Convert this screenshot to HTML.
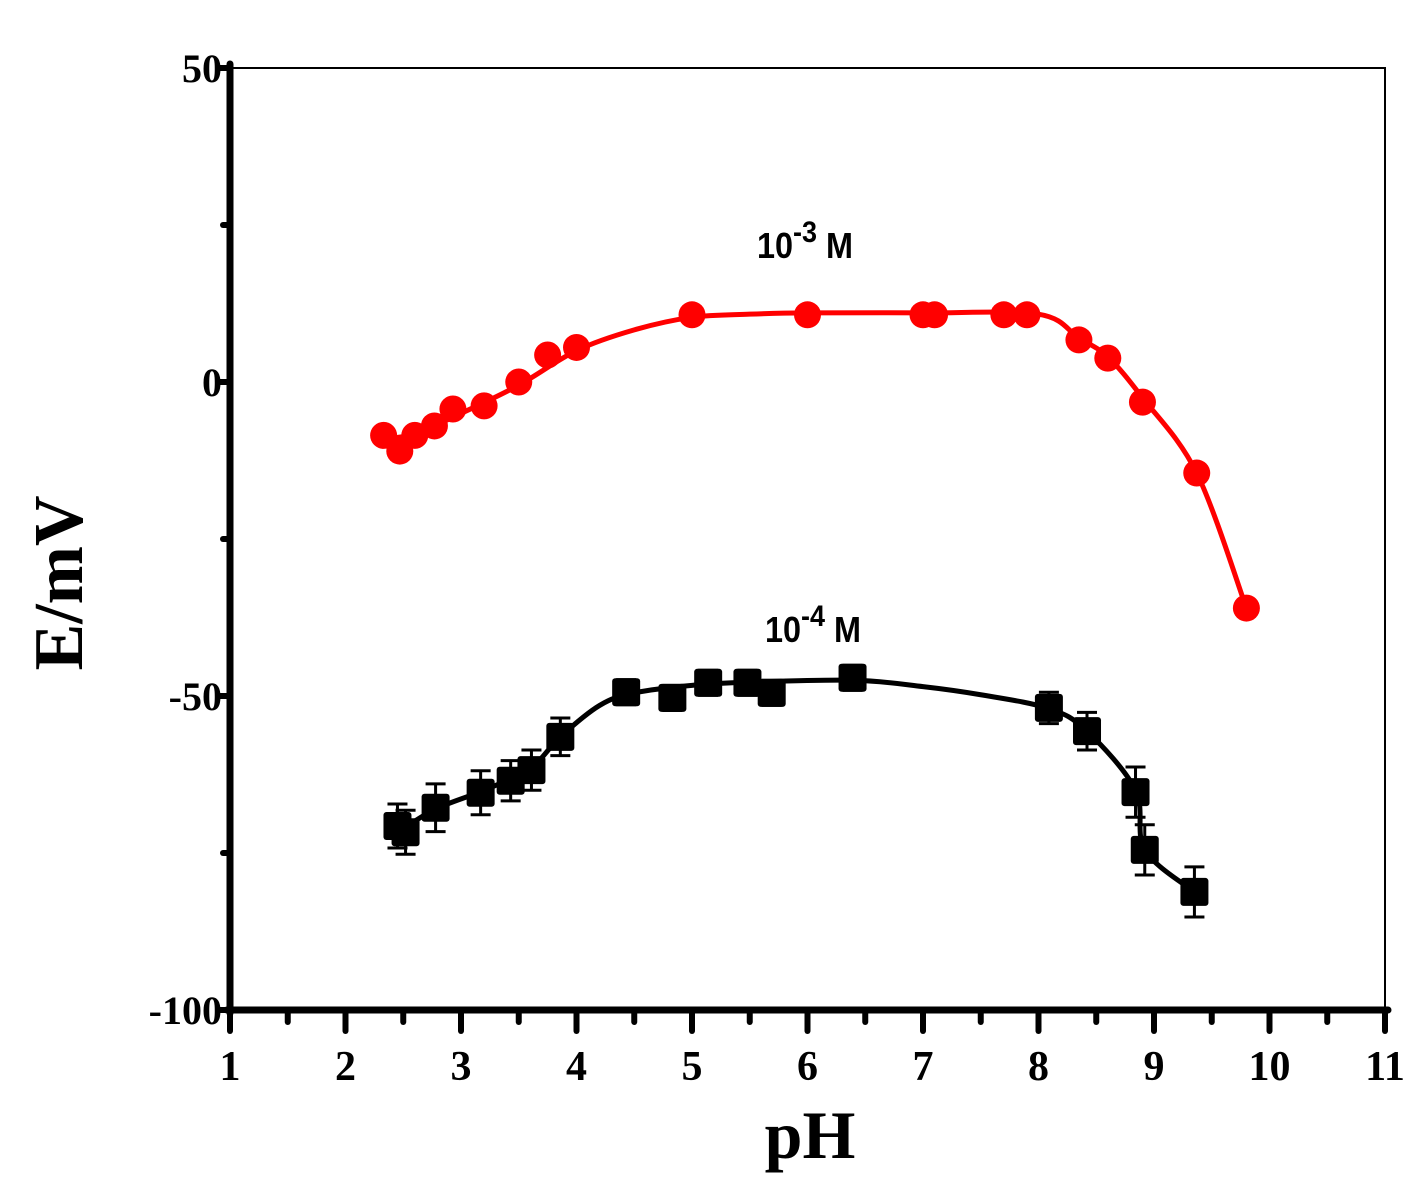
<!DOCTYPE html>
<html><head><meta charset="utf-8"><style>
body{margin:0;background:#fff}
svg text{font-family:"Liberation Serif",serif;font-weight:bold}
svg text.lbl{font-family:"Liberation Sans",Arial,sans-serif;font-weight:bold}
</style></head><body>
<svg id="chart" width="1423" height="1192" viewBox="0 0 1423 1192" xmlns="http://www.w3.org/2000/svg">
<g id="plot"></g>
</svg>
<script>
const xTicks=[1,2,3,4,5,6,7,8,9,10,11];
const yTicks=[50,0,-50,-100];
const redX=[2.33,2.47,2.6,2.77,2.93,3.2,3.5,3.75,4,5,6,7,7.1,7.7,7.9,8.35,8.6,8.9,9.37,9.8];
const redY=[-8.5,-11,-8.5,-7,-4.3,-3.8,0,4.3,5.5,10.7,10.7,10.7,10.7,10.7,10.7,6.7,3.8,-3.2,-14.5,-36];
const redFitX=[2.33,2.6,3,3.5,4,4.5,5,5.5,6,7,8,8.35,8.6,8.9,9.37,9.8];
const redFitY=[-9,-8.3,-5,-0.5,5,8.3,10.3,10.8,11,11,10.8,7,4,-2.5,-14.5,-36];
const blackX=[2.45,2.52,2.78,3.17,3.43,3.61,3.86,4.43,4.83,5.14,5.48,5.69,6.39,8.09,8.42,8.84,8.92,9.35];
const blackY=[-70.7,-71.7,-67.8,-65.4,-63.5,-61.8,-56.5,-49.4,-50.3,-47.9,-47.9,-49.5,-47.1,-51.9,-55.6,-65.3,-74.5,-81.2];
const blackErr=[3.5,3.5,3.8,3.5,3.2,3.2,3,2,2,2,2,2,2,2.5,3,4,4,4];
const blackFitX=[2.47,2.78,3.2,3.6,3.86,4.2,4.5,5,5.5,6.4,7,7.5,8.09,8.42,8.84,8.92,9.35];
const blackFitY=[-71.5,-68,-65,-61.5,-56.5,-51.5,-49.5,-48.3,-47.8,-47.5,-48.5,-49.8,-52,-55.6,-65,-74.5,-81.2];

const X0=230,X1=1385,Y0=1010,Y1=68;
const sx=v=>X0+(v-1)/(11-1)*(X1-X0);
const sy=v=>Y0-(v+100)/150*(Y0-Y1);
const NS="http://www.w3.org/2000/svg";
const g=document.getElementById('plot');
function mk(t,a,p){const e=document.createElementNS(NS,t);for(const k in a)e.setAttribute(k,a[k]);(p||g).appendChild(e);return e;}
function smooth(xs,ys){const p=xs.map((x,i)=>[sx(x),sy(ys[i])]);let d=`M${p[0][0]},${p[0][1]}`;
for(let i=0;i<p.length-1;i++){const p0=p[i-1]||p[i],p1=p[i],p2=p[i+1],p3=p[i+2]||p2;
d+=` C${p1[0]+(p2[0]-p0[0])/6},${p1[1]+(p2[1]-p0[1])/6} ${p2[0]-(p3[0]-p1[0])/6},${p2[1]-(p3[1]-p1[1])/6} ${p2[0]},${p2[1]}`;}return d;}

let e=mk('rect',{x:X0,y:Y1,width:X1-X0,height:Y0-Y1,fill:'none',stroke:'#000','stroke-width':2});

e=mk('line',{x1:X0,y1:Y1-4,x2:X0,y2:Y0+3,stroke:'#000','stroke-width':7,'stroke-linecap':'round'});

e=mk('line',{x1:X0-3,y1:Y0,x2:X1+3,y2:Y0,stroke:'#000','stroke-width':7,'stroke-linecap':'round'});


xTicks.forEach((v,i)=>{
  e=mk('line',{x1:sx(v),y1:Y0,x2:sx(v),y2:Y0+21,stroke:'#000','stroke-width':6,'stroke-linecap':'round'});
  
  if(i<xTicks.length-1){e=mk('line',{x1:sx(v+0.5),y1:Y0,x2:sx(v+0.5),y2:Y0+12,stroke:'#000','stroke-width':6,'stroke-linecap':'round'});
  }
  e=mk('text',{x:sx(v),y:1080,'font-size':42,'text-anchor':'middle'});e.textContent=v;
  
});
yTicks.forEach((v,i)=>{
  e=mk('line',{x1:X0,y1:sy(v),x2:X0-12,y2:sy(v),stroke:'#000','stroke-width':6,'stroke-linecap':'round'});
  
  if(i<yTicks.length-1){e=mk('line',{x1:X0,y1:sy(v-25),x2:X0-7,y2:sy(v-25),stroke:'#000','stroke-width':6,'stroke-linecap':'round'});
  }
  e=mk('text',{x:X0-8,y:sy(v)+14,'font-size':40,'text-anchor':'end','font-weight':'normal'});e.textContent=v;
  
});
e=mk('text',{x:810,y:1158,'font-size':68,'text-anchor':'middle'});e.textContent='pH';

e=mk('text',{x:0,y:0,'font-size':70,'text-anchor':'middle',transform:'translate(82,583) rotate(-90)'});e.textContent='E/mV';


e=mk('path',{d:smooth(redFitX,redFitY),fill:'none',stroke:'#ff0000','stroke-width':5});

redX.forEach((x,i)=>{e=mk('circle',{cx:sx(x),cy:sy(redY[i]),r:13.5,fill:'#ff0000'});
  });
e=mk('path',{d:smooth(blackFitX,blackFitY),fill:'none',stroke:'#000','stroke-width':5});

blackX.forEach((x,i)=>{const cx=sx(x),cy=sy(blackY[i]),t=sy(blackY[i]+blackErr[i]),b=sy(blackY[i]-blackErr[i]);
  e=mk('path',{d:`M${cx},${t}V${b}M${cx-10},${t}H${cx+10}M${cx-10},${b}H${cx+10}`,stroke:'#000','stroke-width':3,fill:'none'});
  
  e=mk('rect',{x:cx-14,y:cy-14,width:28,height:28,rx:3,fill:'#000'});
  });

function label(x,y,exp,name){const t=mk('text',{x:0,y:0,'font-size':36,'class':'lbl',transform:`translate(${x},${y}) scale(0.9,1)`});
  
  const a=mk('tspan',{},t);a.textContent='10';const b=mk('tspan',{dy:-16,'font-size':30},t);b.textContent=exp;
  const c=mk('tspan',{dy:16},t);c.textContent=' M';}
label(757,258,'-3','label-1e-3-m');
label(765,642,'-4','label-1e-4-m');
</script>
</body></html>
